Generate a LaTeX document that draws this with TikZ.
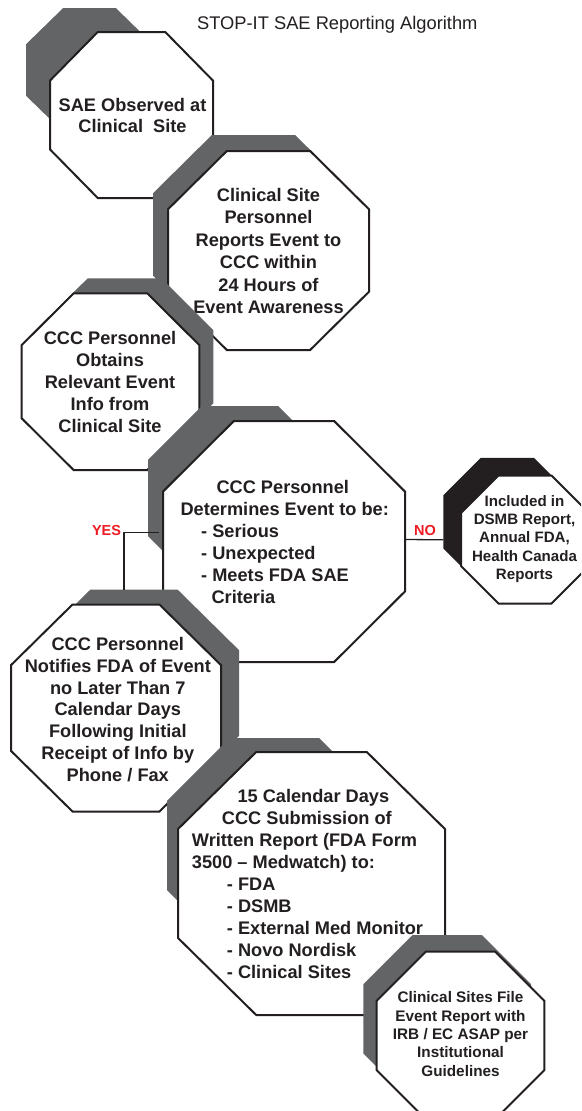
\documentclass[tikz,border=0pt]{standalone}
\usepackage{fontspec}
\setmainfont{Liberation Sans}
\usepackage{xcolor}

\definecolor{inkgray}{RGB}{99,100,102}
\definecolor{inkdark}{RGB}{35,31,32}
\definecolor{inkred}{RGB}{237,28,36}

\begin{document}
\begin{tikzpicture}[x=1pt,y=-1pt]
  \tikzset{backoct/.style={fill=inkgray},
           darkoct/.style={fill=inkdark},
           frontoct/.style={fill=white,draw=inkdark,line width=2pt},
           pics/octa/.style n args={3}{code={
             \path[#3,xscale=#1,yscale=#2] (1,0.4142) -- (0.4142,1) -- (-0.4142,1) -- (-1,0.4142)
               -- (-1,-0.4142) -- (-0.4142,-1) -- (0.4142,-1) -- (1,-0.4142) -- cycle;
             \coordinate (-n) at (0,-#2); \coordinate (-s) at (0,#2);
             \coordinate (-w) at (-#1,0); \coordinate (-e) at (#1,0);}},
           boxtext/.style={text=inkdark,align=center,inner sep=0pt,
                           font=\fontsize{18.2}{21.9}\selectfont\bfseries},
           smalltext/.style={boxtext,font=\fontsize{15.3}{18.3}\selectfont\bfseries},
           link/.style={draw=inkdark,line width=1.3pt},
           answer/.style={text=inkred,inner sep=0pt,font=\fontsize{14.5}{16}\selectfont\bfseries}}
  \useasboundingbox (0,0) rectangle (581,1111);
  \fill[white] (0,0) rectangle (581,1111);
  \clip (0,0) rectangle (581,1111);

  \node[text=inkdark,anchor=base,inner sep=0pt,font=\fontsize{18.3}{22}\selectfont] (title) at (337.3,29)
    {STOP-IT SAE Reporting Algorithm};

  % observed at site
  \pic (obsback) at (89.5,70) {octa={63.5}{62}{backoct}};
  \pic (obsbox) at (131.5,115) {octa={81.5}{83}{frontoct}};
  \node[boxtext,font=\fontsize{18.2}{21.7}\selectfont\bfseries] (observed) at (132.5,115.5)
    {SAE Observed at\\Clinical\ \ Site};

  % site reports to ccc
  \pic (repback) at (253.5,234.5) {octa={100.5}{99.5}{backoct}};
  \pic (repbox) at (268.5,250.5) {octa={100.5}{99.5}{frontoct}};
  \node[boxtext,font=\fontsize{18.2}{22.5}\selectfont\bfseries] (reports) at (268.5,251)
    {Clinical Site\\Personnel\\Reports Event to\\CCC within\\24 Hours of\\Event Awareness};

  % ccc obtains info
  \pic (obtback) at (124.5,366.7) {octa={88.8}{88.4}{backoct}};
  \pic (obtbox) at (110.5,381.7) {octa={88.8}{88.4}{frontoct}};
  \node[boxtext,font=\fontsize{18.2}{22}\selectfont\bfseries] (obtains) at (110,382)
    {CCC Personnel\\Obtains\\Relevant Event\\Info from\\Clinical Site};

  % ccc determines event
  \pic (detback) at (240,498) {octa={92}{92}{backoct}};
  \pic (detbox) at (284,541.5) {octa={121}{120.5}{frontoct}};
  \node[boxtext,align=left] (determines) at (284.7,542)
    {\hspace*{36pt}CCC Personnel\\Determines Event to be:\\\hspace*{20.7pt}- Serious\\
     \hspace*{20.7pt}- Unexpected\\\hspace*{20.7pt}- Meets FDA SAE\\\hspace*{31pt}Criteria};

  % not serious
  \pic (inclback) at (507.3,521.8) {octa={64}{64}{darkoct}};
  \pic (inclbox) at (525,539.5) {octa={64}{64}{frontoct}};
  \node[smalltext,font=\fontsize{15.1}{18.3}\selectfont\bfseries] (included) at (524.5,539)
    {Included in\\DSMB Report,\\Annual FDA,\\Health Canada\\Reports};

  % ccc notifies fda
  \pic (ntfback) at (134,693) {octa={105}{103.5}{backoct}};
  \pic (ntfbox) at (116,708) {octa={105}{103.5}{frontoct}};
  \node[boxtext,font=\fontsize{18.2}{21.7}\selectfont\bfseries] (notifies) at (117.8,709.5)
    {CCC Personnel\\Notifies FDA of Event\\no Later Than 7\\Calendar Days\\Following Initial\\Receipt of Info by\\Phone / Fax};

  % written report
  \pic (subback) at (274.5,845.5) {octa={107.5}{107.5}{backoct}};
  \pic (subbox) at (311.5,883.5) {octa={133.5}{131.5}{frontoct}};
  \node[boxtext,align=left] (submits) at (307.5,884)
    {\hspace*{45.6pt}15 Calendar Days\\\hspace*{30pt}CCC Submission of\\Written Report (FDA Form\\
     3500 – Medwatch) to:\\\hspace*{35pt}- FDA\\\hspace*{35pt}- DSMB\\\hspace*{35pt}- External Med Monitor\\
     \hspace*{35pt}- Novo Nordisk\\\hspace*{35pt}- Clinical Sites};

  % sites file with irb
  \pic (filback) at (447.2,1018.8) {octa={83.8}{83.8}{backoct}};
  \pic (filbox) at (460.5,1035.5) {octa={83.8}{83.8}{frontoct}};
  \node[smalltext] (files) at (460.5,1034)
    {Clinical Sites File\\Event Report with\\IRB / EC ASAP per\\Institutional\\Guidelines};

  % yes / no branches
  \draw[link] ([xshift=-4pt,yshift=9pt]detbox-w) -| node[answer,anchor=base east,xshift=-2.3pt,yshift=-2.5pt] {YES}
    ([xshift=-10pt]ntfback-n);
  \draw[link] ([yshift=2pt]detbox-e) -- node[answer,pos=0.52,anchor=base,yshift=4.3pt] {NO}
    ([yshift=-0.3pt]inclback-w |- inclbox-w);
\end{tikzpicture}
\end{document}
